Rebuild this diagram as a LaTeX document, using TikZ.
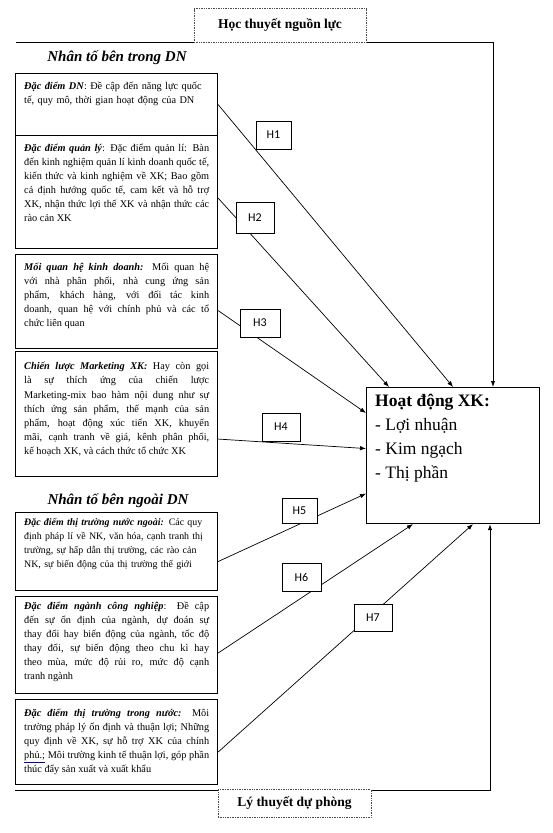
\documentclass[tikz,border=0pt]{standalone}
\usepackage{fontspec}
\setmainfont{Liberation Serif}
\setsansfont{Carlito}
\usetikzlibrary{arrows.meta,calc}
\tikzset{
  bx/.style={draw, line width=1.1pt, minimum width=202pt, inner sep=0pt, anchor=north west},
  tx/.style={anchor=north west, inner sep=0pt, text width=185pt, align=justify, font=\fontsize{10.3}{14}\selectfont},
  txr/.style={tx, align=left},
  hbox/.style={draw, fill=white, line width=0.8pt, inner sep=0pt, font=\sffamily\fontsize{12}{14}\selectfont},
  conn/.style={line width=0.7pt, -{Latex[length=6pt,width=4.5pt]}},
  frame/.style={line width=1pt, -{Latex[length=6pt,width=4.5pt]}},
  dotbox/.style={draw=black!70, densely dotted, line width=0.7pt, fill=white, inner sep=0pt, font=\fontsize{13.5}{16}\selectfont\bfseries},
  ttl/.style={font=\fontsize{15}{18}\selectfont\bfseries\itshape, inner sep=0pt}
}
\newcommand\bi[1]{\textbf{\textit{#1}}}
\begin{document}
\begin{tikzpicture}[x=1pt,y=-1pt]
\useasboundingbox (0,0) rectangle (553,833);
% frame lines
\coordinate (tl) at (16,42.5);
\coordinate (tr) at (493,42.5);
\coordinate (bl) at (15,790);
\coordinate (br) at (490,790);
% main box
\node[bx, minimum width=173pt, minimum height=136pt] (hd) at (366,387) {};
\node[anchor=north west, inner sep=0pt, align=left, font=\fontsize{17.5}{24}\selectfont] (hdt) at ($(hd.north west)+(9,7)$)
  {\textbf{Hoạt động XK:}\\- Lợi nhuận\\- Kim ngạch\\- Thị phần};
\draw[frame] (tl) -- (tr) -- (tr |- hd.north);
\draw[frame] (bl) -- (br) -- (br |- hd.south);
\node[dotbox, minimum width=172pt, minimum height=34pt] (hoc) at (280,25.5) {Học thuyết nguồn lực};
\node[dotbox, minimum width=153pt, minimum height=28pt] (ly) at (294.5,803.5) {Lý thuyết dự phòng};
% titles
\node[ttl] (tin) at (117,58) {Nhân tố bên trong DN};
\node[ttl] (tout) at (118,501) {Nhân tố bên ngoài DN};
% boxes
\node[bx, minimum height=62pt] (b1) at (15,73) {};
\node[bx, minimum height=113pt] (b2) at (15,135) {};
\node[bx, minimum height=94pt] (b3) at (15,254) {};
\node[bx, minimum height=125pt] (b4) at (15,351) {};
\node[bx, minimum height=78pt] (b5) at (15,512) {};
\node[bx, minimum height=97pt] (b6) at (15,596) {};
\node[bx, minimum height=85pt] (b7) at (15,699) {};
\node[txr] (t1) at ($(b1.north west)+(9,9)$) {\bi{Đặc điểm DN}: Đề cập đến năng lực quốc\\tế, quy mô, thời gian hoạt động của DN};
\node[tx] (t2) at ($(b2.north west)+(9,9)$) {\bi{Đặc điểm quản lý}: Đặc điểm quản lí: Bàn\linebreak đến kinh nghiệm quản lí kinh doanh quốc tế,\linebreak kiến thức và kinh nghiệm về XK; Bao gồm\linebreak cả định hướng quốc tế, cam kết và hỗ trợ\linebreak XK, nhận thức lợi thế XK và nhận thức các\linebreak rào cản XK};
\node[tx] (t3) at ($(b3.north west)+(9,9)$) {\bi{Mối quan hệ kinh doanh:} Mối quan hệ\linebreak với nhà phân phối, nhà cung ứng sản\linebreak phẩm, khách hàng, với đối tác kinh\linebreak doanh, quan hệ với chính phủ và các tổ\linebreak chức liên quan};
\node[tx, font=\fontsize{10.3}{14.2}\selectfont] (t4) at ($(b4.north west)+(9,11)$) {\bi{Chiến lược Marketing XK:} Hay còn gọi\linebreak là sự thích ứng của chiến lược\linebreak Marketing-mix bao hàm nội dung như sự\linebreak thích ứng sản phẩm, thế mạnh của sản\linebreak phẩm, hoạt động xúc tiến XK, khuyến\linebreak mãi, cạnh tranh về giá, kênh phân phối,\linebreak kế hoạch XK, và cách thức tổ chức XK};
\node[txr, text width=188pt, font=\fontsize{9.9}{14}\selectfont] (t5) at ($(b5.north west)+(9,6)$) {\bi{Đặc điểm thị trường nước ngoài:} Các quy\\định pháp lí về NK, văn hóa, cạnh tranh thị\\trường, sự hấp dẫn thị trường, các rào cản\\NK, sự biến động của thị trường thế giới};
\node[tx] (t6) at ($(b6.north west)+(9,6)$) {\bi{Đặc điểm ngành công nghiệp}: Đề cập\linebreak đến sự ổn định của ngành, dự đoán sự\linebreak thay đổi hay biến động của ngành, tốc độ\linebreak thay đổi, sự biến động theo chu kì hay\linebreak theo mùa, mức độ rủi ro, mức độ cạnh\linebreak tranh ngành};
\node[tx] (t7) at ($(b7.north west)+(9,10)$) {\bi{Đặc điểm thị trường trong nước:} Môi\linebreak trường pháp lý ổn định và thuận lợi; Những\linebreak quy định về XK, sự hỗ trợ XK của chính\linebreak {\color{blue!70!black}\underline{\color{black}phủ.;}} Môi trường kinh tế thuận lợi, góp phần\linebreak thúc đẩy sản xuất và xuất khẩu};
% connectors
\draw[conn] (b1.east) -- (hd.north);
\draw[conn] ($(b2.east)+(0,6)$) -- ($(hd.north west)+(23,0)$);
\draw[conn] ($(b3.east)+(0,9)$) -- ($(hd.north west)+(0,26)$);
\draw[conn] ($(b4.east)+(0,25)$) -- ($(hd.west)+(0,-7)$);
\draw[conn] ($(b5.east)+(0,10)$) -- ($(hd.west)+(0,38)$);
\draw[conn] ($(b6.east)+(0,8)$) -- ($(hd.south west)+(47,0)$);
\draw[conn] ($(b7.east)+(0,10)$) -- ($(hd.south west)+(107,0)$);
% hypothesis labels
\node[hbox, minimum width=35pt, minimum height=28pt] (h1) at (273.5,135) {H1};
\node[hbox, minimum width=38pt, minimum height=31pt] (h2) at (255,217.5) {H2};
\node[hbox, minimum width=40pt, minimum height=28pt] (h3) at (260,323) {H3};
\node[hbox, minimum width=38pt, minimum height=28pt] (h4) at (281,427) {H4};
\node[hbox, minimum width=35pt, minimum height=25pt] (h5) at (299.5,510.5) {H5};
\node[hbox, minimum width=39pt, minimum height=28pt] (h6) at (301.5,577) {H6};
\node[hbox, minimum width=38pt, minimum height=27pt] (h7) at (373,617.5) {H7};
\end{tikzpicture}
\end{document}
